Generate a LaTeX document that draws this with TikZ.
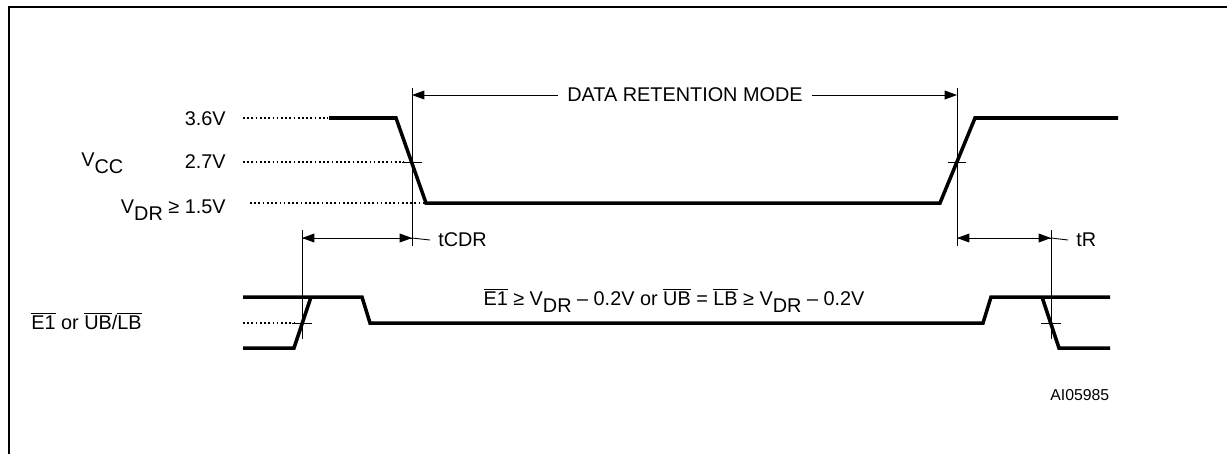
\documentclass[tikz,border=0pt]{standalone}
\usepackage{fontspec}
\setmainfont{Liberation Sans}
\usepackage{tikz}
\usetikzlibrary{arrows.meta}
\tikzstyle{wave} = [line width=2pt, line join=miter]
\tikzstyle{guide} = [line width=0.5pt]
\tikzstyle{dotline} = [line width=0.6pt, dash pattern=on 1pt off 1.4pt]
\tikzstyle{tip} = [-{Triangle[length=7pt, width=5pt]}]
\tikzstyle{lbl} = [inner sep=0pt, font=\fontsize{11.3}{13}\selectfont]
\newcommand{\lowsub}[1]{\raisebox{-4.5pt}{#1}}
\newcommand{\ovl}[1]{$\overline{\mbox{#1}}$}

\begin{document}
\begin{tikzpicture}[x=0.02cm, y=-0.02cm]
      \useasboundingbox (0, 0) rectangle (1227, 454);
      \draw[line width=1.4pt] (9, 454) -- (9, 7) -- (1227, 7);

      \node[lbl, anchor=base east] (v36) at (226, 125) {3.6V};
      \node[lbl, anchor=base east] (v27) at (226, 168) {2.7V};
      \node[lbl, anchor=base east] (vdr) at (226, 213) {V\lowsub{DR} ≥ 1.5V};
      \node[lbl, anchor=base west] (vcc) at (81, 166) {V\lowsub{CC}};
      \node[lbl, anchor=base west] (ctrl) at (31, 329) {\ovl{E1} or \ovl{UB}/\ovl{LB}};
      \node[lbl, anchor=base] (cond) at (674, 305) {\ovl{E1} ≥ V\lowsub{DR} – 0.2V or \ovl{UB} = \ovl{LB} ≥ V\lowsub{DR} – 0.2V};
      \node[lbl, inner xsep=5pt] (drm) at (685, 95) {DATA RETENTION MODE};
      \node[lbl, inner xsep=4.5pt, anchor=west] (tcdr) at (430, 240) {tCDR};
      \node[lbl, inner xsep=4.5pt, anchor=west] (tr) at (1068, 240) {tR};
      \node[lbl, font=\fontsize{9}{11}\selectfont, anchor=west] (code) at (1050, 395) {AI05985};

      \coordinate (aL) at (412, 95);
      \coordinate (aR) at (957, 95);
      \coordinate (cL) at (302, 238);
      \coordinate (cR) at (412, 238);
      \coordinate (rL) at (957, 238);
      \coordinate (rR) at (1051, 238);

      \draw[dotline] (243, 118) -- (328, 118);
      \draw[dotline] (243, 162) -- (404, 162);
      \draw[dotline] (250, 203) -- (426, 203);
      \draw[dotline] (243, 323) -- (294, 323);

      \draw[guide] (412, 88) -- (412, 246);
      \draw[guide] (957, 88) -- (957, 246);
      \draw[guide] (302, 230) -- (302, 339);
      \draw[guide] (1051, 230) -- (1051, 339);
      \draw[guide] (402, 162) -- (422, 162);
      \draw[guide] (948, 162) -- (966, 162);
      \draw[guide] (292, 323) -- (312, 323);
      \draw[guide] (1041, 323) -- (1061, 323);

      \draw[guide, tip] (drm.west) -- (aL);
      \draw[guide, tip] (drm.east) -- (aR);
      \draw[guide, tip] (cR) -- (cL);
      \draw[guide, tip] (cL) -- (cR);
      \draw[guide] (cR) -- (tcdr.west);
      \draw[guide, tip] (rR) -- (rL);
      \draw[guide, tip] (rL) -- (rR);
      \draw[guide] (rR) -- (tr.west);

      \draw[wave] (329, 118) -- (396, 118) -- (426, 203) -- (940, 203) -- (975, 118) -- (1118, 118);
      \draw[wave] (243, 297) -- (362, 297) -- (370, 323) -- (983, 323) -- (991, 297) -- (1110, 297);
      \draw[wave] (243, 348) -- (294, 348) -- (311, 297);
      \draw[wave] (1042, 297) -- (1059, 348) -- (1110, 348);
    \end{tikzpicture}
\end{document}
